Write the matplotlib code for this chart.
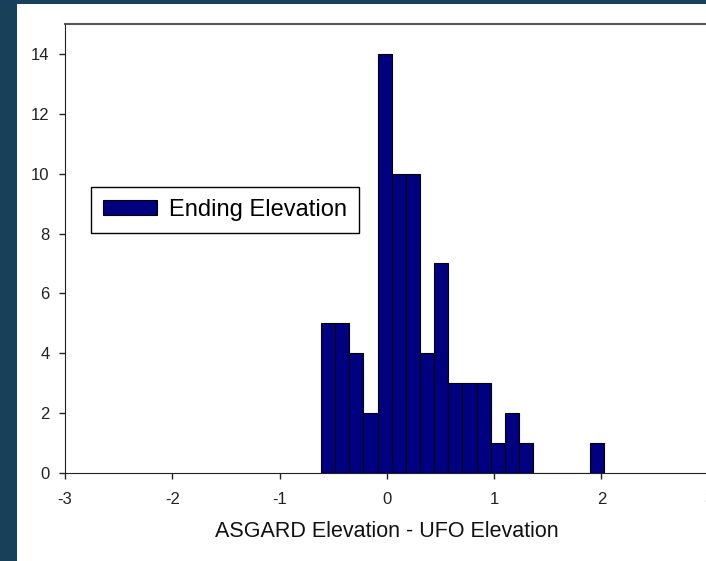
import numpy as np
import matplotlib
matplotlib.use('Agg')
import matplotlib.pyplot as plt
from matplotlib.patches import Rectangle

# histogram data (20 bins over the data range)
bin_start = -0.614
bin_end = 2.024
n_bins = 20
counts = [5, 5, 4, 2, 14, 10, 10, 4, 7, 3, 3, 3, 1, 2, 1, 0, 0, 0, 0, 1]
x_ticks = [-3, -2, -1, 0, 1, 2, 3]
y_ticks = [0, 2, 4, 6, 8, 10, 12, 14]

edges = np.linspace(bin_start, bin_end, n_bins + 1)

plt.rcParams['font.family'] = ['Liberation Sans', 'DejaVu Sans']
plt.rcParams['axes.unicode_minus'] = False

fig = plt.figure(figsize=(7.06, 5.61), dpi=100)
fig.patch.set_facecolor('#17405b')
# white panel
fig.add_artist(Rectangle((17 / 706, 0), 1, 1 - 4 / 561, transform=fig.transFigure,
                         facecolor='white', edgecolor='none', zorder=0))

ax = fig.add_axes([65 / 706, 88 / 561, 643.6 / 706, 449 / 561])
ax.set_facecolor('white')

ax.bar(edges[:-1], counts, width=np.diff(edges), align='edge',
       color='#000080', edgecolor='black', linewidth=0.8, label='Ending Elevation')

ax.set_xlim(-3, 3)
ax.set_ylim(0, 15)
ax.set_xticks(x_ticks)
ax.set_yticks(y_ticks)
ax.tick_params(direction='out', length=4, width=1, labelsize=12, colors='#222222')
ax.tick_params(axis='y', pad=7)
ax.tick_params(axis='x', pad=10)

ax.spines['top'].set_color('#555555')
ax.spines['top'].set_linewidth(1.5)
ax.spines['right'].set_visible(False)
ax.spines['left'].set_color('#222222')
ax.spines['bottom'].set_color('#222222')

ax.set_xlabel('ASGARD Elevation - UFO Elevation', fontsize=15.5, labelpad=10, color='#111111')

leg = ax.legend(loc='upper left', bbox_to_anchor=(0.0404, 0.637), borderaxespad=0,
                fancybox=False, edgecolor='black', framealpha=1, fontsize=17,
                handlelength=2.3, handleheight=0.6, borderpad=0.5, handletextpad=0.5)
leg.get_frame().set_linewidth(1)

fig.savefig('out.png', dpi=100, facecolor=fig.get_facecolor())
